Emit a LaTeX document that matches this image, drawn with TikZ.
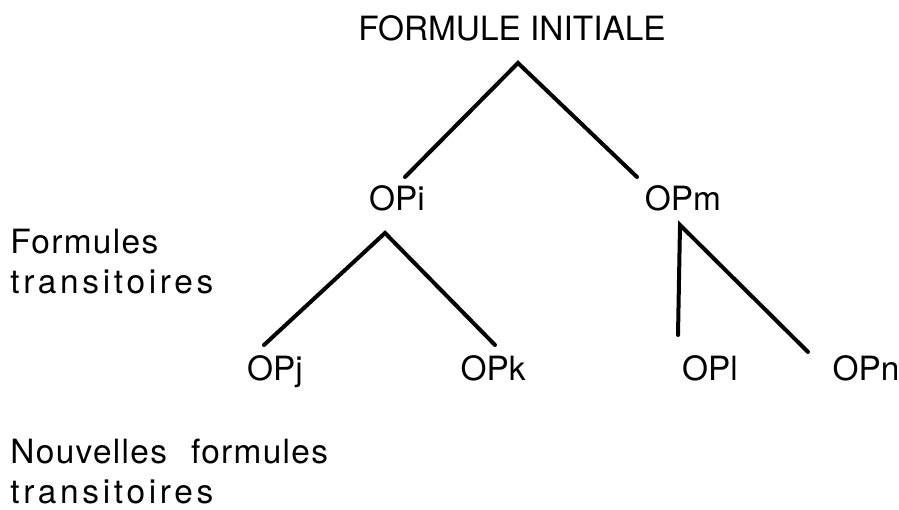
\documentclass[tikz,border=0pt]{standalone}
\usepackage{fontspec}
\setmainfont{TeX Gyre Heros}
\newfontfamily\trackedfont[LetterSpace=11]{TeX Gyre Heros}
\newfontfamily\lighttrack[LetterSpace=4]{TeX Gyre Heros}
\begin{document}
\begin{tikzpicture}[x=0.5pt,y=-0.5pt,
  lbl/.style={inner sep=0pt,anchor=base,font=\fontsize{16.7}{20}\selectfont},
  side/.style={inner sep=0pt,anchor=base west,font=\fontsize{16.7}{20}\selectfont},
  branch/.style={line width=2pt,line cap=round}]
\useasboundingbox (0,0) rectangle (899,509);
% nodes
\node[lbl] (top) at (512,40) {FORMULE INITIALE};
\node[lbl] (OPi) at (397,210) {OPi};
\node[lbl] (OPm) at (683,210) {OPm};
\node[lbl] (OPj) at (275,380) {OPj};
\node[lbl] (OPk) at (493,380) {OPk};
\node[lbl] (OPl) at (710,380) {OPl};
\node[lbl] (OPn) at (866,380) {OPn};
\node[side] (f1) at (10,253) {\lighttrack Formules};
\node[side] (f2) at (10,293) {\trackedfont transitoires};
\node[side] (n1) at (10,463) {\lighttrack Nouvelles\hspace{12pt}formules};
\node[side] (n2) at (10,503) {\trackedfont transitoires};
% branch points
\coordinate (a0) at (518,63);
\coordinate (e1) at (405,177);
\coordinate (e2) at (637,177);
\coordinate (a1) at (385,233);
\coordinate (e3) at (264,345);
\coordinate (e4) at (495,345);
\coordinate (a2) at (680,225);
\coordinate (e5) at (678,335);
\coordinate (e6) at (808,352);
% connectors
\draw[branch] (e1) -- (a0) -- (e2);
\draw[branch] (e3) -- (a1) -- (e4);
\draw[branch] (e5) -- (a2) -- (e6);
\end{tikzpicture}
\end{document}
